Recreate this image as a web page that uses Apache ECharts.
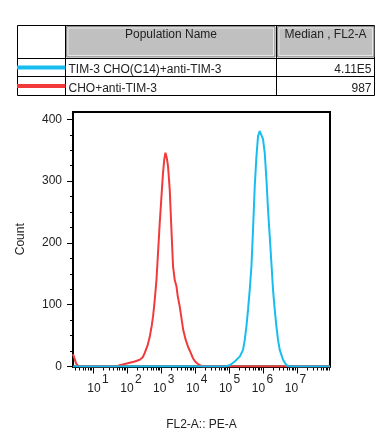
<!DOCTYPE html>
<html>
<head>
<meta charset="utf-8">
<script src="https://cdn.jsdelivr.net/npm/echarts@6/dist/echarts.min.js"></script>
<style>html,body{margin:0;padding:0;background:#fff;}#c{width:385px;height:442px;}</style>
</head>
<body>
<div id="c"></div>
<script>
// ---- data (x values in log10 decades of FL2-A) ----
const populationNames = ['TIM-3 CHO(C14)+anti-TIM-3', 'CHO+anti-TIM-3'];
const medians = ['4.11E5', '987'];
const decadeLabels = [1, 2, 3, 4, 5, 6, 7];
const yTickValues = [0, 100, 200, 300, 400];

const redLog = [0.41, 0.46, 0.50, 0.56, 0.62, 1.70, 1.785, 1.932, 2.079, 2.226, 2.374, 2.462, 2.521, 2.609, 2.668, 2.726, 2.765, 2.815, 2.865, 2.903, 2.962, 3.006, 3.059, 3.094, 3.129, 3.168, 3.206, 3.256, 3.306, 3.353, 3.403, 3.453, 3.491, 3.550, 3.609, 3.653, 3.726, 3.794, 3.874, 3.941, 4.021, 4.138, 4.226, 7.97];
const redCount = [20, 12, 5, 1, 0, 0, 2, 4, 6, 8, 11, 15, 22, 35, 48, 66, 81, 108, 140, 176, 233, 270, 314, 335, 346, 338, 324, 286, 221, 162, 140, 130, 114, 97, 75, 59, 43, 32, 22, 13, 7, 2, 0, 0];

const blueLog = [0.41, 4.874, 5.021, 5.168, 5.315, 5.412, 5.462, 5.512, 5.559, 5.609, 5.659, 5.706, 5.756, 5.806, 5.853, 5.903, 5.953, 6.000, 6.050, 6.100, 6.147, 6.197, 6.247, 6.294, 6.344, 6.394, 6.441, 6.491, 6.588, 6.688, 6.785, 7.97];
const blueCount = [0, 0, 2, 8, 16, 27, 43, 65, 92, 124, 162, 222, 292, 340, 373, 381, 378, 368, 346, 303, 254, 211, 167, 124, 92, 65, 43, 27, 11, 2, 0, 0];

const X_MIN = 0.41, X_MAX = 7.97, Y_MAX = 412;
const BLUE = '#17BDEF', RED = '#F23A3A';
const FONT = 'Liberation Sans, Arial, sans-serif';

// log minor tick positions
const minorTicks = [];
for (let n = 0; n <= 7; n++) {
  for (let k = 2; k <= 9; k++) {
    const v = n + Math.log10(k);
    if (v >= X_MIN && v <= X_MAX) minorTicks.push(v);
  }
}

const toPairs = (xs, ys) => xs.map((x, i) => [x, ys[i]]);

const chart = echarts.init(document.getElementById('c'), null, {renderer: 'canvas'});

const gridL = 73, gridT = 112, gridW = 257, gridH = 254.5;
const baseX = {
  type: 'value', gridIndex: 0, min: X_MIN, max: X_MAX, position: 'bottom', offset: 0,
  splitLine: {show: false}
};

chart.setOption({
  animation: false,
  backgroundColor: '#fff',
  textStyle: {fontFamily: FONT},
  grid: {left: gridL, top: gridT, width: gridW, height: gridH, show: true, borderColor: '#000', borderWidth: 2, backgroundColor: 'transparent'},
  xAxis: [
    Object.assign({}, baseX, {
      axisLine: {show: true, lineStyle: {color: '#000', width: 2}},
      axisTick: {show: true, customValues: minorTicks, length: 4, lineStyle: {color: '#000', width: 1}},
      axisLabel: {show: false},
      name: 'FL2-A:: PE-A', nameLocation: 'middle', nameGap: 52,
      nameTextStyle: {fontSize: 12, color: '#222', fontFamily: FONT}
    }),
    Object.assign({}, baseX, {
      axisLine: {show: false},
      axisTick: {show: true, customValues: decadeLabels, length: 7, lineStyle: {color: '#000', width: 1}},
      axisLabel: {show: false}
    }),
    // label axis for the "10" base
    Object.assign({}, baseX, {
      min: 0.362, max: 8.173,
      axisLine: {show: false}, axisTick: {show: false},
      axisLabel: {show: true, customValues: decadeLabels, formatter: () => '10', margin: 16, fontSize: 12, color: '#222', fontFamily: FONT}
    }),
    // label axis for the exponent
    Object.assign({}, baseX, {
      min: 0.362, max: 8.173,
      axisLine: {show: false}, axisTick: {show: false},
      axisLabel: {show: true, customValues: decadeLabels, formatter: (v) => String(v), align: 'left', padding: [0, 0, 0, 8], margin: 7, fontSize: 12, color: '#222', fontFamily: FONT}
    })
  ],
  yAxis: {
    type: 'value', min: 0, max: Y_MAX,
    axisLine: {show: true, lineStyle: {color: '#000', width: 2}},
    axisTick: {show: true, customValues: yTickValues, length: 6, lineStyle: {color: '#000', width: 1}},
    minorTick: {show: true, splitNumber: 4, length: 3, lineStyle: {color: '#000', width: 1}},
    interval: 100,
    axisLabel: {customValues: yTickValues, fontSize: 12, color: '#222', margin: 11, fontFamily: FONT},
    splitLine: {show: false},
    name: 'Count', nameLocation: 'middle', nameGap: 46,
    nameTextStyle: {fontSize: 12, color: '#222', fontFamily: FONT}
  },
  series: [
    {type: 'line', xAxisIndex: 0, data: toPairs(redLog, redCount), showSymbol: false, lineStyle: {color: RED, width: 2}, itemStyle: {color: RED}, z: 2},
    {type: 'line', xAxisIndex: 0, data: toPairs(blueLog, blueCount), showSymbol: false, lineStyle: {color: BLUE, width: 2}, itemStyle: {color: BLUE}, z: 3}
  ],
  graphic: [
    {type: 'rect', shape: {x: 17.5, y: 25.5, width: 357, height: 70}, style: {fill: '#fff', stroke: '#000', lineWidth: 1}, z: 1},
    {type: 'rect', shape: {x: 66.5, y: 26.5, width: 208.5, height: 30.5}, style: {fill: '#C0C0C0', stroke: '#8C8C8C', lineWidth: 1}, z: 2},
    {type: 'rect', shape: {x: 68, y: 28, width: 205.5, height: 27.5}, style: {fill: 'none', stroke: '#E6E6E6', lineWidth: 1}, z: 3},
    {type: 'rect', shape: {x: 277.5, y: 26.5, width: 96.5, height: 30.5}, style: {fill: '#C0C0C0', stroke: '#8C8C8C', lineWidth: 1}, z: 2},
    {type: 'rect', shape: {x: 279, y: 28, width: 93.5, height: 27.5}, style: {fill: 'none', stroke: '#E6E6E6', lineWidth: 1}, z: 3},
    {type: 'line', shape: {x1: 65.5, y1: 25.5, x2: 65.5, y2: 95.5}, style: {stroke: '#000', lineWidth: 1}, z: 4},
    {type: 'line', shape: {x1: 276.5, y1: 25.5, x2: 276.5, y2: 95.5}, style: {stroke: '#000', lineWidth: 1}, z: 4},
    {type: 'line', shape: {x1: 17.5, y1: 58.5, x2: 374.5, y2: 58.5}, style: {stroke: '#000', lineWidth: 1}, z: 4},
    {type: 'line', shape: {x1: 17.5, y1: 76.5, x2: 374.5, y2: 76.5}, style: {stroke: '#000', lineWidth: 1}, z: 4},
    {type: 'rect', shape: {x: 17, y: 65.5, width: 48.5, height: 4}, style: {fill: BLUE}, z: 5},
    {type: 'rect', shape: {x: 17, y: 84, width: 48.5, height: 4}, style: {fill: RED}, z: 5},
    {type: 'text', x: 171, y: 35, style: {text: 'Population Name', fontSize: 12, fontFamily: FONT, fill: '#222', align: 'center', verticalAlign: 'middle'}, z: 6},
    {type: 'text', x: 325.5, y: 35, style: {text: 'Median , FL2-A', fontSize: 12, fontFamily: FONT, fill: '#222', align: 'center', verticalAlign: 'middle'}, z: 6},
    {type: 'text', x: 68.5, y: 70, style: {text: populationNames[0], fontSize: 12, fontFamily: FONT, fill: '#222', align: 'left', verticalAlign: 'middle'}, z: 6},
    {type: 'text', x: 68.5, y: 88.5, style: {text: populationNames[1], fontSize: 12, fontFamily: FONT, fill: '#222', align: 'left', verticalAlign: 'middle'}, z: 6},
    {type: 'text', x: 371.5, y: 70, style: {text: medians[0], fontSize: 12, fontFamily: FONT, fill: '#222', align: 'right', verticalAlign: 'middle'}, z: 6},
    {type: 'text', x: 371.5, y: 88.5, style: {text: medians[1], fontSize: 12, fontFamily: FONT, fill: '#222', align: 'right', verticalAlign: 'middle'}, z: 6}
  ]
});
</script>
</body>
</html>
